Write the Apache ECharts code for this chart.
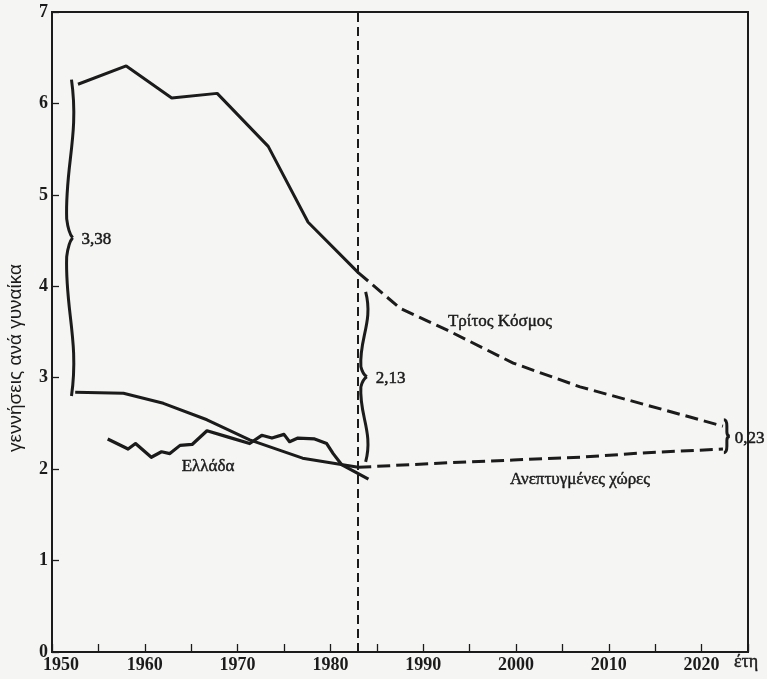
<!DOCTYPE html>
<html>
<head>
<meta charset="utf-8">
<script src="https://cdn.jsdelivr.net/npm/echarts@6/dist/echarts.min.js"></script>
<style>
html,body{margin:0;padding:0;background:#f5f5f3;}
#chart{width:767px;height:679px;}
</style>
</head>
<body>
<div id="chart"></div>
<script>
// ---- data ----
const thirdWorldYears = [1952.8, 1958.0, 1962.9, 1967.8, 1973.3, 1977.6, 1983];
const thirdWorldTFR   = [6.21, 6.41, 6.06, 6.11, 5.53, 4.70, 4.15];
const thirdWorldProjYears = [1983, 1987.5, 1992.6, 1999.7, 2006.9, 2014.1, 2022.3];
const thirdWorldProjTFR   = [4.15, 3.76, 3.52, 3.16, 2.90, 2.70, 2.47];

const developedYears = [1952.5, 1957.7, 1962.0, 1966.7, 1971.3, 1977.0, 1983];
const developedTFR   = [2.84, 2.83, 2.72, 2.54, 2.32, 2.12, 2.02];
const developedProjYears = [1983, 1992.6, 1999.7, 2006.9, 2014.1, 2022.3];
const developedProjTFR   = [2.02, 2.07, 2.10, 2.13, 2.18, 2.22];

const greeceYears = [1956.0, 1958.2, 1959.0, 1960.7, 1961.8, 1962.7, 1963.8, 1965.1, 1966.7, 1969.0,
                     1971.3, 1972.6, 1973.7, 1975.0, 1975.6, 1976.5, 1978.3, 1979.6, 1980.3, 1981.2, 1984.1];
const greeceTFR   = [2.33, 2.22, 2.28, 2.13, 2.19, 2.17, 2.26, 2.27, 2.42, 2.35,
                     2.28, 2.37, 2.34, 2.38, 2.30, 2.34, 2.33, 2.28, 2.17, 2.05, 1.89];

const projectionStartYear = 1983;

const braceYears  = [1952.1, 1983.8, 2022.4];
const braceTop    = [6.26, 3.94, 2.54];
const braceBottom = [2.80, 2.08, 2.18];
const braceLabels = ['3,38', '2,13', '0,23'];

const xTickYears = [1950, 1960, 1970, 1980, 1990, 2000, 2010, 2020];
const yTicks = [0, 1, 2, 3, 4, 5, 6, 7];

const yAxisTitle = 'γεννήσεις ανά γυναίκα';
const xAxisTitle = 'έτη';
const labelThird = 'Τρίτος Κόσμος';
const labelDeveloped = 'Ανεπτυγμένες χώρες';
const labelGreece = 'Ελλάδα';

// ---- helpers ----
const zip = (xs, ys) => xs.map((x, i) => [x, ys[i]]);
const INK = '#1b1b1b';
const TSERIF = '"Liberation Serif", "DejaVu Serif", serif';

const chart = echarts.init(document.getElementById('chart'), null, {renderer: 'canvas'});

function braceItem(params, api) {
  const top = api.coord([api.value(0), api.value(1)]);
  const bot = api.coord([api.value(0), api.value(2)]);
  const x0 = top[0], yT = top[1], yB = bot[1];
  const ym = (yT + yB) / 2;
  const h = (yB - yT) / 2;
  let d, labelX;
  if (yB - yT < 50) {
    const w = 3;
    d = `M${x0},${yT} Q${x0+w},${yT} ${x0+w},${yT+0.4*h} L${x0+w},${ym-0.25*h} Q${x0+w},${ym} ${x0+2*w},${ym} ` +
        `Q${x0+w},${ym} ${x0+w},${ym+0.25*h} L${x0+w},${yB-0.4*h} Q${x0+w},${yB} ${x0},${yB}`;
    labelX = x0 + 11;
  } else {
    const w = 6;
    d = `M${x0},${yT} C${x0+1.3*w},${yT+0.35*h} ${x0-1.1*w},${ym-0.45*h} ${x0-0.8*w},${ym-0.12*h} ` +
        `Q${x0-0.5*w},${ym-0.03*h} ${x0+0.2*w},${ym} ` +
        `M${x0+0.2*w},${ym} Q${x0-0.5*w},${ym+0.03*h} ${x0-0.8*w},${ym+0.12*h} ` +
        `C${x0-1.1*w},${ym+0.45*h} ${x0+1.3*w},${yB-0.35*h} ${x0},${yB}`;
    labelX = x0 + 10;
  }
  return {
    type: 'group',
    children: [
      {type: 'path', shape: {pathData: d}, style: {stroke: INK, lineWidth: 3, fill: null}},
      {type: 'text', x: labelX, y: ym + 2,
       style: {text: braceLabels[params.dataIndex], fill: INK, font: '17px ' + TSERIF,
               stroke: INK, lineWidth: 0.5,
               textAlign: 'left', textVerticalAlign: 'middle'}}
    ]
  };
}

const solid = {type: 'solid', width: 3, color: INK};
const dashed = {type: [13, 6], width: 3, color: INK};
const textStyle = (size) => ({fill: INK, font: size + 'px ' + TSERIF, stroke: INK, lineWidth: 0.45,
                              textAlign: 'center', textVerticalAlign: 'middle'});

const option = {
  backgroundColor: '#f5f5f3',
  animation: false,
  grid: {left: 52, right: 19, top: 12, bottom: 27, show: true, borderColor: INK, borderWidth: 2, backgroundColor: 'transparent'},
  xAxis: {
    type: 'value', min: 1950, max: 2025, interval: 5,
    axisLine: {show: true, lineStyle: {color: INK, width: 2}},
    axisTick: {show: true, inside: true, length: 8, lineStyle: {color: INK, width: 1.3}},
    splitLine: {show: false},
    axisLabel: {
      margin: 4, color: INK, fontFamily: TSERIF, fontSize: 18, fontWeight: 'bold',
      formatter: v => {
        if (!xTickYears.includes(v)) return '';
        return v === xTickYears[0] ? '{first|' + v + '}' : String(v);
      },
      rich: {first: {padding: [0, 0, 0, 18], fontFamily: TSERIF, fontSize: 18, fontWeight: 'bold', color: INK}}
    }
  },
  yAxis: {
    type: 'value', min: 0, max: 7, interval: 1,
    axisLine: {show: true, lineStyle: {color: INK, width: 2}},
    axisTick: {show: true, inside: true, length: 7, lineStyle: {color: INK, width: 1.3}},
    splitLine: {show: false},
    axisLabel: {
      margin: 4, color: INK, fontFamily: TSERIF, fontSize: 18, fontWeight: 'bold',
      formatter: v => yTicks.includes(v) ? String(v) : ''
    }
  },
  series: [
    {name: 'third', type: 'line', data: zip(thirdWorldYears, thirdWorldTFR), symbol: 'none',
     lineStyle: solid, z: 3,
     markLine: {silent: true, symbol: 'none', label: {show: false},
                lineStyle: {type: [9, 5], width: 2, color: INK},
                data: [{xAxis: projectionStartYear}]}},
    {name: 'thirdProj', type: 'line', data: zip(thirdWorldProjYears, thirdWorldProjTFR), symbol: 'none',
     lineStyle: dashed, z: 3},
    {name: 'dev', type: 'line', data: zip(developedYears, developedTFR), symbol: 'none',
     lineStyle: solid, z: 3},
    {name: 'devProj', type: 'line', data: zip(developedProjYears, developedProjTFR), symbol: 'none',
     lineStyle: dashed, z: 3},
    {name: 'greece', type: 'line', data: zip(greeceYears, greeceTFR), symbol: 'none',
     lineStyle: {width: 3.2, color: INK, join: 'round'}, z: 3},
    {name: 'braces', type: 'custom', renderItem: braceItem,
     data: braceYears.map((y, i) => [y, braceTop[i], braceBottom[i]]), z: 4, silent: true, clip: false}
  ],
  graphic: [
    {type: 'text', x: 16, y: 358, rotation: Math.PI / 2,
     style: {text: yAxisTitle, fill: INK, font: '19px "Liberation Sans", "DejaVu Sans", sans-serif',
             textAlign: 'center', textVerticalAlign: 'middle'}},
    {type: 'text', x: 746, y: 662, style: Object.assign({text: xAxisTitle}, textStyle(18))},
    {type: 'text', x: 500, y: 322, style: Object.assign({text: labelThird}, textStyle(17))},
    {type: 'text', x: 580, y: 480, style: Object.assign({text: labelDeveloped}, textStyle(17))},
    {type: 'text', x: 208, y: 467, style: Object.assign({text: labelGreece}, textStyle(17))}
  ]
};
chart.setOption(option);
</script>
</body>
</html>
